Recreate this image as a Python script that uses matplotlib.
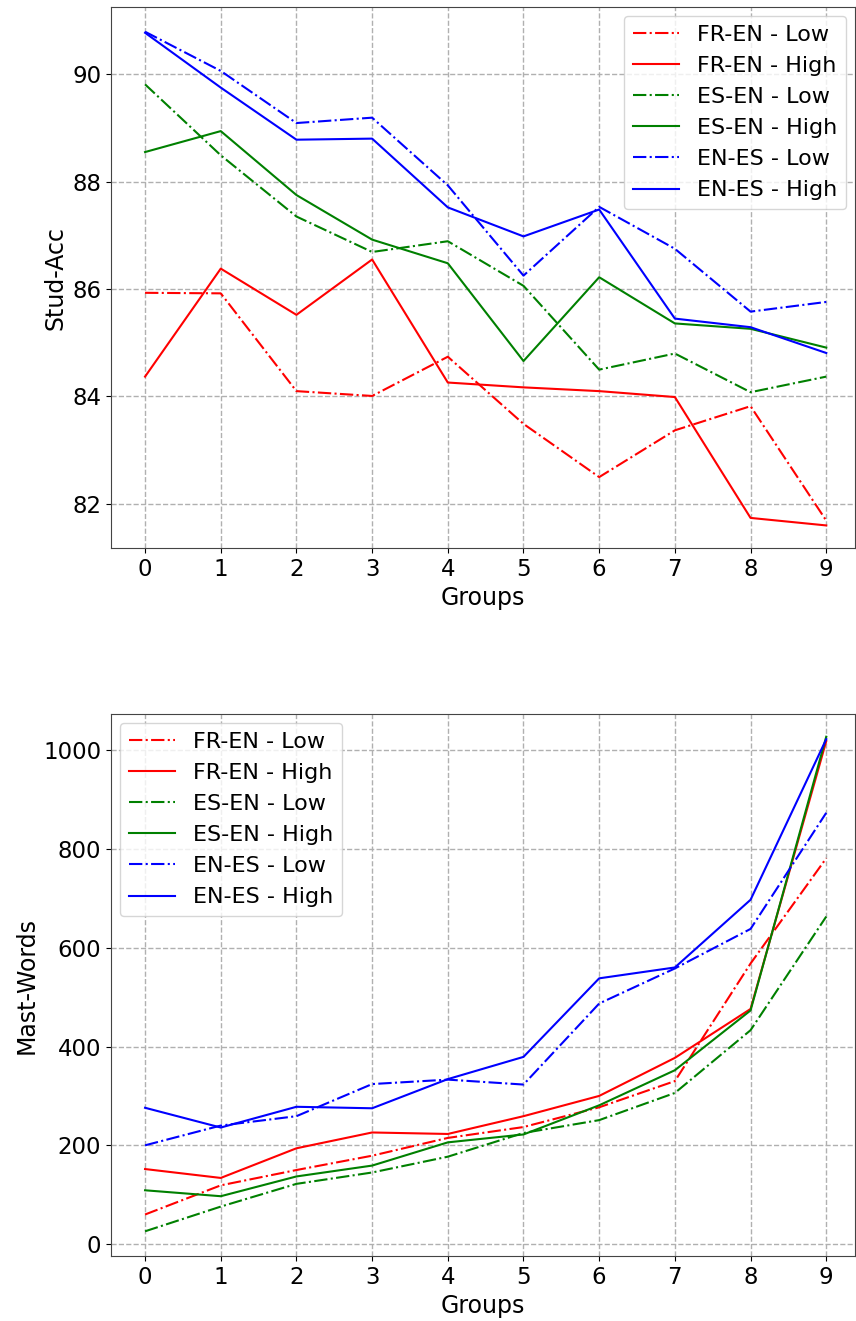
import matplotlib
matplotlib.use("Agg")
import matplotlib.pyplot as plt
import numpy as np

groups = list(range(10))

acc_fr_low = [85.93, 85.92, 84.10, 84.01, 84.74, 83.49, 82.50, 83.37, 83.82, 81.69]
acc_fr_high = [84.37, 86.38, 85.52, 86.55, 84.26, 84.17, 84.10, 83.99, 81.74, 81.60]
acc_es_low = [89.81, 88.49, 87.35, 86.69, 86.89, 86.06, 84.50, 84.80, 84.08, 84.37]
acc_es_high = [88.55, 88.94, 87.75, 86.92, 86.48, 84.66, 86.22, 85.36, 85.26, 84.91]
acc_en_low = [90.79, 90.06, 89.09, 89.19, 87.93, 86.25, 87.53, 86.75, 85.58, 85.76]
acc_en_high = [90.77, 89.75, 88.78, 88.80, 87.52, 86.98, 87.48, 85.45, 85.29, 84.81]

words_fr_low = [60, 119, 150, 179, 215, 237, 277, 330, 568, 781]
words_fr_high = [152, 134, 194, 226, 223, 259, 300, 377, 476, 1018]
words_es_low = [26, 76, 122, 145, 177, 225, 251, 306, 433, 663]
words_es_high = [109, 97, 137, 159, 206, 222, 281, 352, 473, 1027]
words_en_low = [200, 240, 259, 324, 333, 323, 487, 558, 638, 873]
words_en_high = [276, 236, 278, 275, 334, 379, 538, 560, 697, 1022]

labels = ["FR-EN - Low", "FR-EN - High", "ES-EN - Low", "ES-EN - High", "EN-ES - Low", "EN-ES - High"]
colors = ["red", "red", "green", "green", "blue", "blue"]
styles = ["-.", "-", "-.", "-", "-.", "-"]

fig = plt.figure(figsize=(8.56, 13.21), dpi=100)
ax1 = fig.add_axes([111/856, 1 - 548/1321, (855-111)/856, (548-7)/1321])
ax2 = fig.add_axes([111/856, 1 - 1256/1321, (855-111)/856, (1256-714)/1321])

acc = [acc_fr_low, acc_fr_high, acc_es_low, acc_es_high, acc_en_low, acc_en_high]
words = [words_fr_low, words_fr_high, words_es_low, words_es_high, words_en_low, words_en_high]

for ax, data, ylabel, loc in [(ax1, acc, "Stud-Acc", "upper right"), (ax2, words, "Mast-Words", "upper left")]:
    for d, lab, c, s in zip(data, labels, colors, styles):
        ax.plot(groups, d, color=c, linestyle=s, label=lab, linewidth=1.5)
    ax.grid(True, linestyle="--", color="#b0b0b0", linewidth=1)
    ax.set_xticks(groups)
    ax.tick_params(labelsize=16.5)
    ax.set_xlabel("Groups", fontsize=17, labelpad=4)
    ax.set_ylabel(ylabel, fontsize=17, labelpad=3)
    ax.set_xlim(-0.45, 9.38)
    for sp in ax.spines.values():
        sp.set_color("#444444")
    ax.legend(loc=loc, fontsize=16, handlelength=2.1, borderaxespad=0.4)

ax1.set_ylim(81.18, 91.25)
ax1.set_yticks([82, 84, 86, 88, 90])
ax2.set_ylim(-24, 1073)
ax2.set_yticks([0, 200, 400, 600, 800, 1000])

fig.savefig("out.png", dpi=100)
